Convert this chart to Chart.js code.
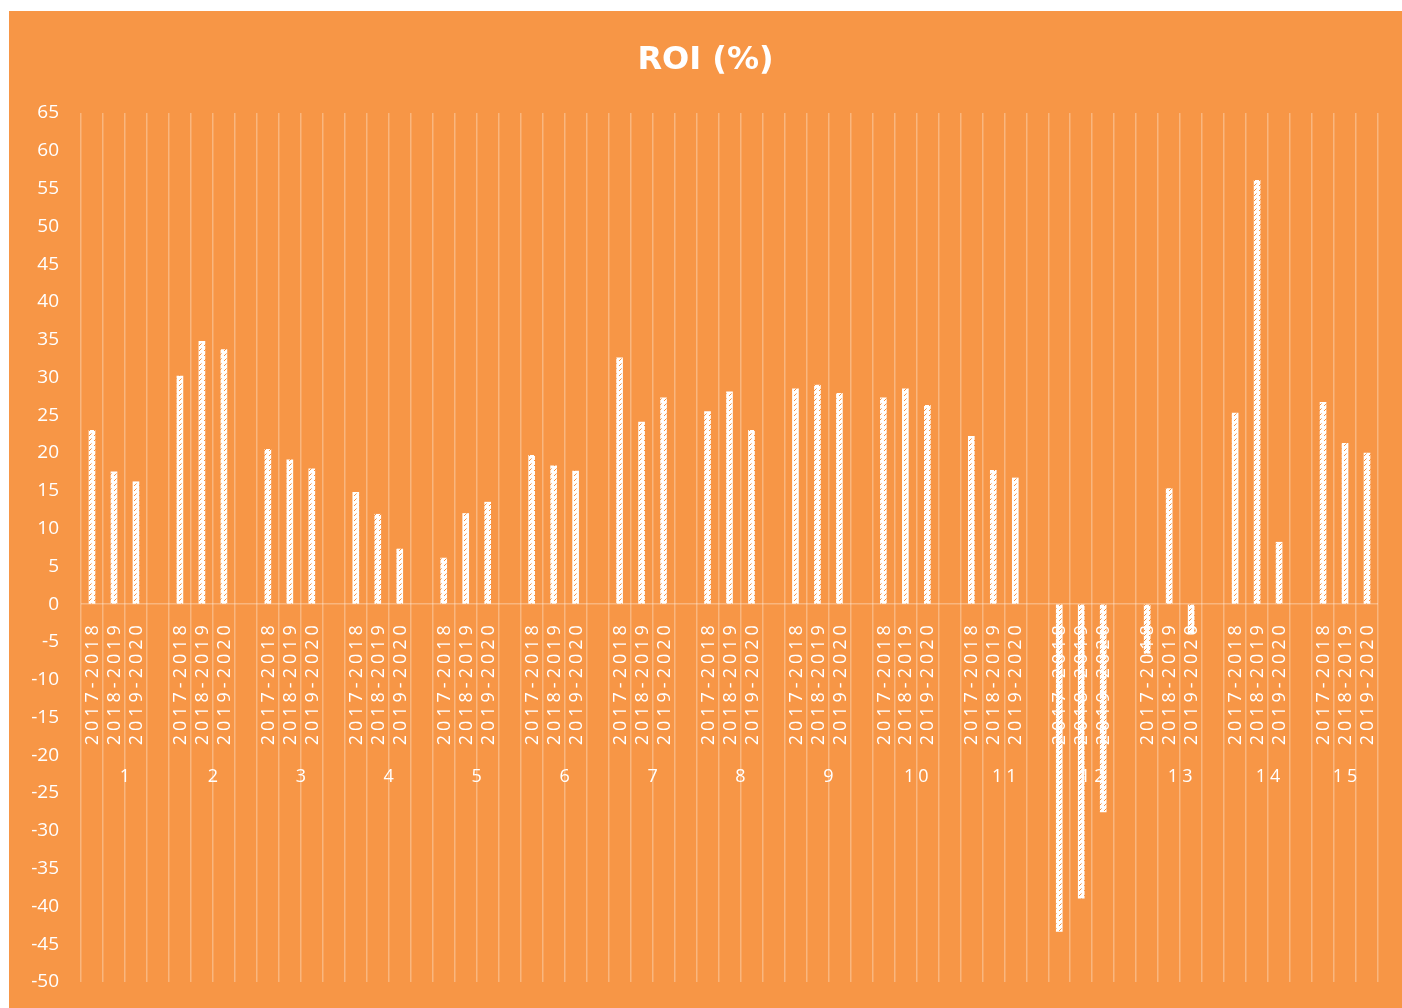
<!DOCTYPE html>
<html>
<head>
<meta charset="utf-8">
<script src="https://cdn.jsdelivr.net/npm/chart.js@4/dist/chart.umd.min.js"></script>
<style>
  html, body { margin: 0; padding: 0; background: #fff; }
  #roi { position: absolute; left: 9px; top: 11px; background: #f79646; }
</style>
</head>
<body>
<canvas id="roi" width="1393" height="997"></canvas>
<script>
// ROI (%) per item, three fiscal periods each

const groups = ["1", "2", "3", "4", "5", "6", "7", "8", "9", "10", "11", "12", "13", "14", "15"];
const periods = ["2017-2018", "2018-2019", "2019-2020"];
const roi1718 = [23.0, 30.2, 20.5, 14.8, 6.1, 19.7, 32.6, 25.5, 28.5, 27.3, 22.2, -43.3, -6.5, 25.3, 26.7];
const roi1819 = [17.5, 34.8, 19.1, 11.9, 12.0, 18.3, 24.1, 28.1, 29.0, 28.5, 17.7, -38.9, 15.3, 56.1, 21.3];
const roi1920 = [16.2, 33.7, 17.9, 7.3, 13.5, 17.6, 27.3, 23.0, 27.9, 26.3, 16.7, -27.5, -3.8, 8.2, 20.0];
const yTicks = { min: -50, max: 65, step: 5 };

const ORANGE = "#f79646";
const GRID = "rgba(255,255,255,0.3)";

// one slot per bar, plus an empty spacer slot between groups (like Excel)
const slotLabels = [];
const slotValues = [];
const groupSlots = []; // [first, last] slot index of each group
const series = [roi1718, roi1819, roi1920];
groups.forEach((g, gi) => {
  const first = slotLabels.length;
  periods.forEach((p, pi) => {
    slotLabels.push(p);
    slotValues.push(series[pi][gi]);
  });
  if (gi < groups.length - 1) {
    slotLabels.push("");
    slotValues.push(null);
  }
  groupSlots.push([first, slotLabels.length - 1]);
});

function hatch() {
  const c = document.createElement("canvas");
  c.width = 5;
  c.height = 5;
  const g = c.getContext("2d");
  g.fillStyle = "#fff";
  g.fillRect(0, 0, 5, 5);
  g.fillStyle = ORANGE;
  g.fillRect(0, 4, 1, 1);
  g.fillRect(1, 3, 1, 1);
  g.fillStyle = "rgba(247,150,70,0.6)";
  g.fillRect(2, 2, 1, 1);
  return g.createPattern(c, "repeat");
}

// category labels sit just under the zero line, inside the plot, as in the original
const axisLabels = {
  id: "axisLabels",
  afterDatasetsDraw(chart) {
    const { ctx, scales: { x, y } } = chart;
    const y0 = y.getPixelForValue(0);
    ctx.save();
    ctx.fillStyle = "#fff";
    ctx.font = '18px "Open Sans"';
    ctx.letterSpacing = "4px";
    slotLabels.forEach((lab, i) => {
      if (!lab) return;
      ctx.save();
      ctx.translate(x.getPixelForValue(i) + 1, y0 + 17);
      ctx.rotate(-Math.PI / 2);
      ctx.textAlign = "right";
      ctx.textBaseline = "middle";
      ctx.fillText(lab, 0, 0);
      ctx.restore();
    });
    ctx.textAlign = "center";
    ctx.textBaseline = "middle";
    groups.forEach((g, gi) => {
      const [a, b] = groupSlots[gi];
      const cx = (x.getPixelForValue(a) + x.getPixelForValue(b)) / 2;
      ctx.fillText(g, cx + 2, y0 + 173);
    });
    ctx.restore();
  },
};

new Chart(document.getElementById("roi"), {
  type: "bar",
  data: {
    labels: slotLabels,
    datasets: [{
      label: "ROI (%)",
      data: slotValues,
      backgroundColor: hatch(),
      borderWidth: 0,
      barThickness: 6,
    }],
  },
  options: {
    responsive: false,
    animation: false,
    devicePixelRatio: 1,
    layout: { padding: { left: 0, right: 0, top: 0, bottom: 26 } },
    plugins: {
      legend: { display: false },
      tooltip: { enabled: false },
      title: {
        display: true,
        text: "ROI (%)",
        color: "#fff",
        font: { family: "DejaVu Sans", size: 32, weight: "bold", lineHeight: 1.2 },
        padding: { top: 30, bottom: 33.6 },
      },
    },
    scales: {
      x: {
        offset: true,
        ticks: { display: false },
        grid: { display: true, offset: true, color: GRID, lineWidth: 1.5, drawTicks: false },
        border: { display: false },
      },
      y: {
        min: yTicks.min,
        max: yTicks.max,
        // tick padding is horizontal only here; drop the vertical padding it adds
        afterFit: (s) => { s.width = 72; s.paddingTop = 0; s.paddingBottom = 0; },
        ticks: {
          stepSize: yTicks.step,
          color: "#fff",
          padding: 22,
          font: { family: "Open Sans", size: 19 },
        },
        grid: {
          drawTicks: false,
          lineWidth: 1.5,
          color: (c) => (c.tick && c.tick.value === 0 ? GRID : "rgba(0,0,0,0)"),
        },
        border: { display: false },
      },
      // empty right-hand margin, keeps the title centred on the whole canvas
      yRight: {
        position: "right",
        afterFit: (s) => { s.width = 24; s.paddingTop = 0; s.paddingBottom = 0; },
        ticks: { display: false },
        grid: { display: false, drawTicks: false },
        border: { display: false },
      },
    },
  },
  plugins: [axisLabels],
});
</script>
</body>
</html>
